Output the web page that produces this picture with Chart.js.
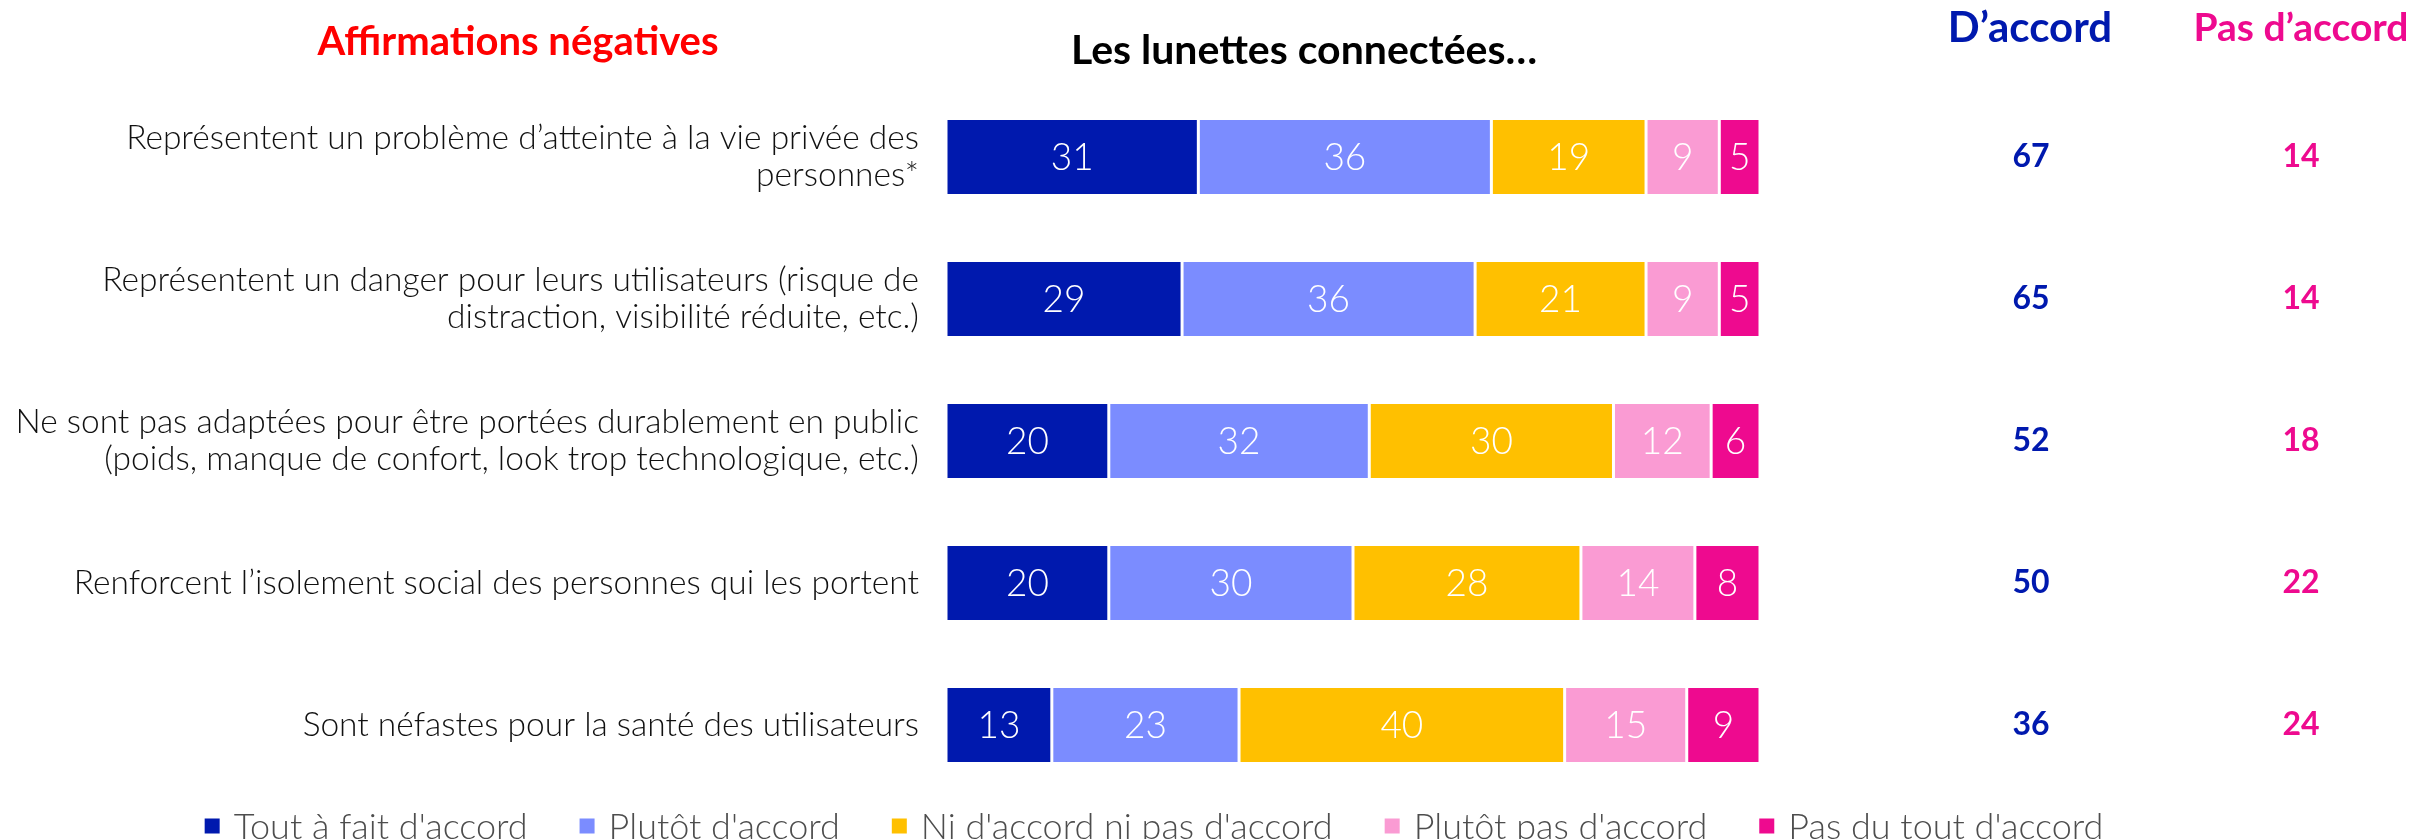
<!DOCTYPE html>
<html>
<head>
<meta charset="utf-8">
<script src="https://cdn.jsdelivr.net/npm/chart.js@4.4.1/dist/chart.umd.min.js"></script>
<style>
  html, body { margin: 0; padding: 0; background: #fff; }
  #wrap { width: 2413px; height: 839px; position: relative; }
</style>
</head>
<body>
<div id="wrap"><canvas id="chart" width="2413" height="839"></canvas></div>
<script>
// --- data ---
const categories = [
  ['Représentent un problème d’atteinte à la vie privée des', 'personnes*'],
  ['Représentent un danger pour leurs utilisateurs (risque de', 'distraction, visibilité réduite, etc.)'],
  ['Ne sont pas adaptées pour être portées durablement en public', '(poids, manque de confort, look trop technologique, etc.)'],
  'Renforcent l’isolement social des personnes qui les portent',
  'Sont néfastes pour la santé des utilisateurs'
];
const seriesNames = ["Tout à fait d'accord", "Plutôt d'accord", "Ni d'accord ni pas d'accord", "Plutôt pas d'accord", "Pas du tout d'accord"];
const toutAFait = [31, 29, 20, 20, 13];
const plutot    = [36, 36, 32, 30, 23];
const niNi      = [19, 21, 30, 28, 40];
const plutotPas = [9, 9, 12, 14, 15];
const pasDuTout = [5, 5, 6, 8, 9];
const totalDAccord    = [67, 65, 52, 50, 36];
const totalPasDAccord = [14, 14, 18, 22, 24];

const colors = ['#0019AE', '#7B8CFF', '#FFC000', '#FA9BD3', '#EE0A8F'];
const LIGHT = '"Lato", "Open Sans", sans-serif';

const seriesValues = [toutAFait, plutot, niNi, plutotPas, pasDuTout];

// titles, totals, value labels and legend
const overlay = {
  id: 'overlay',
  afterDatasetsDraw(chart) {
    const ctx = chart.ctx;
    const yScale = chart.scales.y;
    ctx.save();

    // values inside segments
    ctx.fillStyle = '#fff';
    ctx.font = '300 37px ' + LIGHT;
    ctx.textAlign = 'center';
    ctx.textBaseline = 'middle';
    chart.data.datasets.forEach((ds, di) => {
      chart.getDatasetMeta(di).data.forEach((bar, i) => {
        ctx.fillText(ds.data[i], (bar.x + bar.base) / 2, bar.y + 1);
      });
    });

    // headers
    ctx.font = 'bold 40px ' + LIGHT;
    ctx.fillStyle = '#FF0000';
    ctx.fillText('Affirmations négatives', 518, 42);
    ctx.font = 'bold 41px ' + LIGHT;
    ctx.fillStyle = '#000';
    ctx.fillText('Les lunettes connectées…', 1304, 51);
    ctx.font = 'bold 42px ' + LIGHT;
    ctx.fillStyle = '#0019AE';
    ctx.fillText('D’accord', 2030, 28);
    ctx.font = 'bold 39px ' + LIGHT;
    ctx.fillStyle = '#EE0A8F';
    ctx.fillText('Pas d’accord', 2301, 28);

    // totals
    ctx.font = 'bold 32px ' + LIGHT;
    categories.forEach((c, i) => {
      const y = yScale.getPixelForValue(i);
      ctx.fillStyle = '#0019AE';
      ctx.fillText(totalDAccord[i], 2031, y);
      ctx.fillStyle = '#EE0A8F';
      ctx.fillText(totalPasDAccord[i], 2301, y);
    });

    // legend
    ctx.font = '300 36px ' + LIGHT;
    ctx.textAlign = 'left';
    const gap = 52;
    const box = 15;
    let widths = seriesNames.map(n => box + 14 + ctx.measureText(n).width);
    let total = widths.reduce((a, b) => a + b, 0) + gap * (seriesNames.length - 1);
    let x = 1154 - total / 2;
    const ly = 826;
    seriesNames.forEach((n, i) => {
      ctx.fillStyle = colors[i];
      ctx.fillRect(x, ly - box / 2, box, box);
      ctx.fillStyle = '#4d4d4d';
      ctx.fillText(n, x + box + 14, ly + 1);
      x += widths[i] + gap;
    });

    ctx.restore();
  }
};

new Chart(document.getElementById('chart'), {
  type: 'bar',
  data: {
    labels: categories,
    datasets: seriesNames.map((name, i) => ({
      label: name,
      data: seriesValues[i],
      backgroundColor: colors[i],
      borderColor: '#fff',
      borderWidth: { top: 0, bottom: 0, left: 1.5, right: 1.5 },
      borderSkipped: false,
      categoryPercentage: 1,
      barPercentage: 0.52
    }))
  },
  options: {
    indexAxis: 'y',
    responsive: false,
    animation: false,
    layout: { padding: { top: 86, bottom: 43, left: 0, right: 653 } },
    plugins: {
      legend: { display: false },
      tooltip: { enabled: false }
    },
    scales: {
      x: {
        stacked: true,
        min: 0,
        max: 100,
        display: false
      },
      y: {
        stacked: true,
        grid: { display: false, drawTicks: false },
        border: { display: false },
        afterFit: (scale) => {
          scale.width = 946;
          scale.paddingTop = 0;
          scale.paddingBottom = 0;
        },
        ticks: {
          color: '#111',
          padding: 27,
          font: { family: LIGHT, size: 33.5, weight: '300', lineHeight: 1.1 }
        }
      }
    }
  },
  plugins: [overlay]
});
</script>
</body>
</html>
